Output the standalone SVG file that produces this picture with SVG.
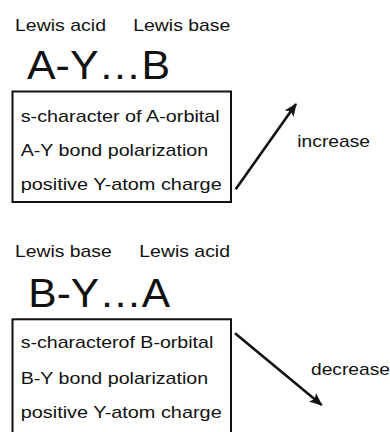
<svg xmlns="http://www.w3.org/2000/svg" width="390" height="432" viewBox="0 0 390 432">
<defs>
<style>
text{font-family:"Liberation Sans",Arial,Helvetica,sans-serif;fill:#111}
.s{font-size:17px}
.b{font-size:41px}
.box{fill:none;stroke:#111;stroke-width:2}
.arr{fill:none;stroke:#111;stroke-width:2.6}
</style>
<marker id="ah" markerUnits="userSpaceOnUse" markerWidth="14" markerHeight="14" viewBox="0 0 14 14" refX="12" refY="7" orient="auto">
<path d="M0,1.5 L13,7 L0,12.5 L3,7 Z" fill="#111"/>
</marker>
</defs>
<g id="top">
<g id="labels-top">
<text class="s" x="15" y="30.5" textLength="91" lengthAdjust="spacingAndGlyphs">Lewis acid</text>
<text class="s" x="133.3" y="30.5" textLength="97" lengthAdjust="spacingAndGlyphs">Lewis base</text>
<text class="b" x="27" y="79" textLength="143" lengthAdjust="spacingAndGlyphs">A-Y…B</text>
</g>
<g id="box-top">
<rect class="box" x="12.5" y="91.5" width="218.5" height="110.5"/>
<text class="s" x="20.7" y="122.3" textLength="199" lengthAdjust="spacingAndGlyphs">s-character of A-orbital</text>
<text class="s" x="20.7" y="155.7" textLength="187.5" lengthAdjust="spacingAndGlyphs">A-Y bond polarization</text>
<text class="s" x="20.7" y="190" textLength="201" lengthAdjust="spacingAndGlyphs">positive Y-atom charge</text>
</g>
<g id="increase">
<text class="s" x="297.3" y="146.7" textLength="72.7" lengthAdjust="spacingAndGlyphs">increase</text>
</g>
</g>
<g id="bottom">
<g id="labels-bottom">
<text class="s" x="15" y="256.7" textLength="96.7" lengthAdjust="spacingAndGlyphs">Lewis base</text>
<text class="s" x="139.3" y="256.7" textLength="90.7" lengthAdjust="spacingAndGlyphs">Lewis acid</text>
<text class="b" x="28.3" y="306.7" textLength="141.7" lengthAdjust="spacingAndGlyphs">B-Y…A</text>
</g>
<g id="box-bottom">
<rect class="box" x="12.5" y="319.3" width="218.5" height="130"/>
<text class="s" x="20.7" y="348.3" textLength="192.6" lengthAdjust="spacingAndGlyphs">s-characterof B-orbital</text>
<text class="s" x="20.7" y="384.3" textLength="187.5" lengthAdjust="spacingAndGlyphs">B-Y bond polarization</text>
<text class="s" x="20.7" y="418.3" textLength="201" lengthAdjust="spacingAndGlyphs">positive Y-atom charge</text>
</g>
<g id="decrease">
<text class="s" x="311" y="375" textLength="79" lengthAdjust="spacingAndGlyphs">decrease</text>
</g>
</g>
<g id="connectors">
<line class="arr" x1="235.7" y1="189.3" x2="296" y2="104" marker-end="url(#ah)"/>
<line class="arr" x1="235" y1="333.3" x2="321.7" y2="405" marker-end="url(#ah)"/>
</g>
</svg>
